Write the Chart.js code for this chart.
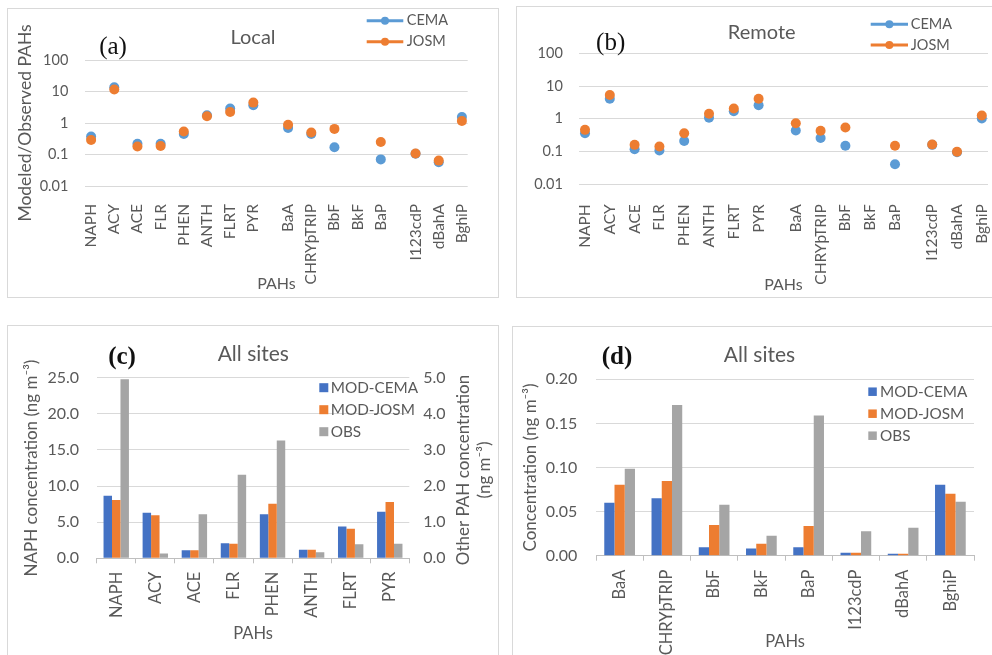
<!DOCTYPE html>
<html>
<head>
<meta charset="utf-8">
<script src="https://cdn.jsdelivr.net/npm/chart.js@4.4.1/dist/chart.umd.min.js"></script>
<style>
  body { margin: 0; background: #fff; width: 992px; height: 655px; overflow: hidden; position: relative; }
  .panel { position: absolute; border: 1px solid #d9d9d9; box-sizing: border-box; background: #fff; }
  .panel canvas { display: block; }
</style>
</head>
<body>
<div class="panel" style="left:7px;top:8px;width:492px;height:290px"><canvas id="chartA" width="490" height="288"></canvas></div>
<div class="panel" style="left:516px;top:6px;width:478px;height:292px"><canvas id="chartB" width="476" height="290"></canvas></div>
<div class="panel" style="left:7px;top:325px;width:492px;height:331px"><canvas id="chartC" width="490" height="329"></canvas></div>
<div class="panel" style="left:512px;top:326px;width:482px;height:330px"><canvas id="chartD" width="480" height="328"></canvas></div>
<script>
'use strict';
Chart.defaults.font.family = 'Lato, "Open Sans", sans-serif';
Chart.defaults.color = '#595959';
Chart.defaults.animation = false;

// (a) and (b): modeled / observed ratios
let pahGroups = [
    ['NAPH', 'ACY', 'ACE', 'FLR', 'PHEN', 'ANTH', 'FLRT', 'PYR'],
    ['BaA', 'CHRYþTRIP', 'BbF', 'BkF', 'BaP'],
    ['I123cdP', 'dBahA', 'BghiP']
];
let ratioTicks = [0.01, 0.1, 1, 10, 100];
let localCema = [0.37, 13.7, 0.22, 0.22, 0.45, 1.75, 2.87, 3.65, 0.70, 0.45, 0.17, null, 0.070, 0.105, 0.057, 1.55];
let localJosm = [0.29, 11.6, 0.18, 0.185, 0.54, 1.63, 2.24, 4.44, 0.88, 0.50, 0.65, null, 0.25, 0.107, 0.064, 1.16];
let remoteCema = [0.36, 4.1, 0.118, 0.107, 0.21, 1.07, 1.70, 2.6, 0.44, 0.26, 0.15, null, 0.041, 0.16, 0.095, 1.02];
let remoteJosm = [0.46, 5.3, 0.16, 0.142, 0.36, 1.42, 2.07, 4.1, 0.73, 0.43, 0.54, null, 0.15, 0.164, 0.098, 1.26];

// (c): NAPH on the left axis, the other light PAHs on the right axis
let lightPahs = ['NAPH', 'ACY', 'ACE', 'FLR', 'PHEN', 'ANTH', 'FLRT', 'PYR'];
let naphCema = 8.67;
let naphJosm = 8.07;
let naphObs = 24.8;
let otherCema = [1.26, 0.22, 0.42, 1.22, 0.24, 0.88, 1.29];
let otherJosm = [1.19, 0.22, 0.40, 1.51, 0.24, 0.82, 1.56];
let otherObs = [0.13, 1.22, 2.31, 3.26, 0.17, 0.39, 0.40];

// (d): heavy PAHs
let heavyPahs = ['BaA', 'CHRYþTRIP', 'BbF', 'BkF', 'BaP', 'I123cdP', 'dBahA', 'BghiP'];
let heavyCema = [0.060, 0.065, 0.0095, 0.0083, 0.0095, 0.0034, 0.0023, 0.0805];
let heavyJosm = [0.0805, 0.0847, 0.0348, 0.0136, 0.0336, 0.0034, 0.0023, 0.0703];
let heavyObs = [0.0987, 0.171, 0.0578, 0.0227, 0.159, 0.0276, 0.0318, 0.0612];

let blue = '#5b9bd5';
let orange = '#ed7d31';
let barBlue = '#4472c4';
let barGrey = '#a5a5a5';
let gridGrey = '#d9d9d9';

// excel left wider gaps between the groups, so every name sits on a
// half step and the group gaps get one extra empty step
function spread(list, blank) {
    let out = [];
    let k = 0;
    pahGroups.forEach((group, g) => {
        if (g > 0) out.push(blank, blank);
        group.forEach((name, i) => {
            if (i > 0) out.push(blank);
            out.push(list[k++]);
        });
    });
    return out;
}
let slotLabels = spread(pahGroups.flat(), '');

// texts and legends drawn straight on the canvas
let notes = {
    id: 'notes',
    afterDraw(chart, args, opts) {
        let ctx = chart.ctx;
        (opts.texts || []).forEach(t => {
            ctx.save();
            ctx.font = t.font;
            ctx.fillStyle = t.color || '#595959';
            ctx.textAlign = 'center';
            ctx.textBaseline = 'middle';
            ctx.translate(t.x, t.y);
            if (t.rotate) ctx.rotate(-Math.PI / 2);
            ctx.fillText(t.text, 0, 0);
            ctx.restore();
        });
        let lg = opts.legend;
        if (!lg) return;
        let sets = chart.data.datasets.slice(0, lg.count);
        sets.forEach((ds, i) => {
            let y = lg.y + i * lg.step;
            ctx.save();
            ctx.fillStyle = ds.backgroundColor;
            ctx.strokeStyle = ds.backgroundColor;
            if (lg.kind === 'line') {
                ctx.lineWidth = 3;
                ctx.beginPath();
                ctx.moveTo(lg.x, y);
                ctx.lineTo(lg.x + lg.len, y);
                ctx.stroke();
                ctx.beginPath();
                ctx.arc(lg.x + lg.len / 2, y, 4, 0, Math.PI * 2);
                ctx.fill();
            } else {
                ctx.fillRect(lg.x, y - lg.len / 2, lg.len, lg.len);
            }
            ctx.font = lg.font;
            ctx.fillStyle = '#595959';
            ctx.textAlign = 'left';
            ctx.textBaseline = 'middle';
            ctx.fillText(ds.label, lg.x + lg.len + lg.gap, y);
            ctx.restore();
        });
    }
};

function ratioChart(id, cema, josm, cfg) {
    return new Chart(document.getElementById(id), {
        type: 'line',
        data: {
            labels: slotLabels,
            datasets: [
                { label: 'CEMA', data: spread(cema, null), backgroundColor: blue, borderColor: blue, order: 2 },
                { label: 'JOSM', data: spread(josm, null), backgroundColor: orange, borderColor: orange, order: 1 }
            ]
        },
        options: {
            responsive: false,
            layout: { padding: cfg.padding },
            datasets: { line: { showLine: false, pointRadius: 5, pointHoverRadius: 5, pointBorderWidth: 0 } },
            plugins: { legend: { display: false }, tooltip: { enabled: false }, notes: cfg.notes },
            scales: {
                x: {
                    offset: true,
                    grid: { display: false },
                    border: { display: false },
                    ticks: { autoSkip: false, minRotation: 90, maxRotation: 90, padding: cfg.xPad, font: { size: 15.5 } },
                    title: { display: true, text: 'PAHs', font: { size: 16 }, padding: { top: 0, bottom: cfg.xTitlePad } },
                    afterFit: s => { s.height = cfg.xHeight; s.paddingLeft = 0; s.paddingRight = 0; }
                },
                y: {
                    type: 'logarithmic',
                    min: 0.01,
                    max: 100,
                    afterBuildTicks: s => { s.ticks = ratioTicks.map(v => ({ value: v })); },
                    grid: { color: gridGrey, drawTicks: false },
                    border: { display: false },
                    ticks: { padding: cfg.yPad, font: { size: 14.5 }, callback: v => String(v) },
                    title: { display: !!cfg.yTitle, text: cfg.yTitle, font: { size: 17.5 }, padding: { top: 6.5, bottom: 0 } },
                    afterFit: s => { s.width = cfg.yWidth; s.paddingTop = 0; s.paddingBottom = 0; }
                }
            }
        },
        plugins: [notes]
    });
}

ratioChart('chartA', localCema, localJosm, {
    padding: { top: 51, right: 30.3, left: 0, bottom: 0 },
    yWidth: 77.3, xHeight: 111, xPad: 10, xTitlePad: 3.5, yPad: 17,
    yTitle: 'Modeled/Observed PAHs',
    notes: {
        texts: [
            { text: 'Local', x: 245, y: 29, font: '20px Lato' },
            { text: '(a)', x: 105, y: 38, font: '25px "Liberation Serif"', color: '#111' }
        ],
        legend: { kind: 'line', x: 358.7, y: 11.7, step: 21, len: 36.6, gap: 3.4, count: 2, font: '14.5px Lato' }
    }
});

ratioChart('chartB', remoteCema, remoteJosm, {
    padding: { top: 46.3, right: 2.8, left: 0, bottom: 0 },
    yWidth: 61.8, xHeight: 112.7, xPad: 12, xTitlePad: 2.5, yPad: 16,
    yTitle: '',
    notes: {
        texts: [
            { text: 'Remote', x: 244.7, y: 25.3, font: '20px Lato' },
            { text: '(b)', x: 93.7, y: 36.3, font: '25px "Liberation Serif"', color: '#111' }
        ],
        legend: { kind: 'line', x: 353.7, y: 17.3, step: 20.7, len: 37.3, gap: 2.7, count: 2, font: '14.5px Lato' }
    }
});

function barSet(label, data, color, axis) {
    return { label: label, data: data, backgroundColor: color, yAxisID: axis, skipNull: true,
        categoryPercentage: 0.65, barPercentage: 1 };
}

function catAxis(cfg) {
    return {
        grid: { drawOnChartArea: false, drawTicks: true, tickLength: 5, color: '#bfbfbf' },
        border: { color: '#bfbfbf' },
        ticks: { autoSkip: false, minRotation: 90, maxRotation: 90, padding: cfg.xPad, font: { size: 16.5 } },
        title: { display: true, text: 'PAHs', font: { size: 16.5 }, padding: { top: 0, bottom: cfg.xTitlePad } },
        afterFit: s => { s.height = cfg.xHeight; s.paddingLeft = 0; s.paddingRight = 0; }
    };
}

let noNaph = otherCema.map(() => null);
new Chart(document.getElementById('chartC'), {
    type: 'bar',
    data: {
        labels: lightPahs,
        datasets: [
            barSet('MOD-CEMA', [naphCema, ...noNaph], barBlue, 'y'),
            barSet('MOD-JOSM', [naphJosm, ...noNaph], orange, 'y'),
            barSet('OBS', [naphObs, ...noNaph], barGrey, 'y'),
            barSet('MOD-CEMA', [null, ...otherCema], barBlue, 'y2'),
            barSet('MOD-JOSM', [null, ...otherJosm], orange, 'y2'),
            barSet('OBS', [null, ...otherObs], barGrey, 'y2')
        ]
    },
    options: {
        responsive: false,
        layout: { padding: { top: 51.7, right: 0, left: 0, bottom: 0 } },
        plugins: {
            legend: { display: false },
            tooltip: { enabled: false },
            notes: {
                texts: [
                    { text: 'All sites', x: 245.3, y: 28.3, font: '21px Lato' },
                    { text: '(c)', x: 114, y: 32, font: 'bold 25px "Liberation Serif"', color: '#111' },
                    { text: 'Other PAH concentration', x: 455.3, y: 144, font: '17px Lato', rotate: true },
                    { text: '(ng m⁻³)', x: 477, y: 144, font: '17px Lato', rotate: true }
                ],
                legend: { kind: 'box', x: 311.3, y: 61.7, step: 22, len: 9, gap: 2.4, count: 3, font: '15.3px Lato' }
            }
        },
        scales: {
            x: catAxis({ xPad: 8.4, xTitlePad: 11.5, xHeight: 96.7 }),
            y: {
                min: 0, max: 25,
                grid: { color: gridGrey, drawTicks: false },
                border: { display: false },
                ticks: { stepSize: 5, padding: 17.7, font: { size: 16 }, callback: v => v.toFixed(1) },
                title: { display: true, text: 'NAPH concentration (ng m⁻³)', font: { size: 17 }, padding: { top: 13.5, bottom: 0 } },
                afterFit: s => { s.width = 88.7; s.paddingTop = 0; s.paddingBottom = 0; }
            },
            y2: {
                position: 'right',
                min: 0, max: 5,
                grid: { drawOnChartArea: false, drawTicks: false },
                border: { display: false },
                ticks: { stepSize: 1, padding: 14, font: { size: 16 }, callback: v => v.toFixed(1) },
                afterFit: s => { s.width = 88.7; s.paddingTop = 0; s.paddingBottom = 0; }
            }
        }
    },
    plugins: [notes]
});

new Chart(document.getElementById('chartD'), {
    type: 'bar',
    data: {
        labels: heavyPahs,
        datasets: [
            barSet('MOD-CEMA', heavyCema, barBlue, 'y'),
            barSet('MOD-JOSM', heavyJosm, orange, 'y'),
            barSet('OBS', heavyObs, barGrey, 'y')
        ]
    },
    options: {
        responsive: false,
        layout: { padding: { top: 52.3, right: 19, left: 0, bottom: 0 } },
        datasets: { bar: { categoryPercentage: 0.67 } },
        plugins: {
            legend: { display: false },
            tooltip: { enabled: false },
            notes: {
                texts: [
                    { text: 'All sites', x: 246.5, y: 28, font: '21px Lato' },
                    { text: '(d)', x: 104, y: 31, font: 'bold 25px "Liberation Serif"', color: '#111' }
                ],
                legend: { kind: 'box', x: 355.3, y: 64.7, step: 22, len: 8.5, gap: 3.2, count: 3, font: '15.3px Lato' }
            }
        },
        scales: {
            x: catAxis({ xPad: 9, xTitlePad: 3.2, xHeight: 99.3 }),
            y: {
                min: 0, max: 0.2,
                grid: { color: gridGrey, drawTicks: false },
                border: { display: false },
                ticks: { stepSize: 0.05, padding: 18.7, font: { size: 16 }, callback: v => v.toFixed(2) },
                title: { display: true, text: 'Concentration (ng m⁻³)', font: { size: 17 }, padding: { top: 7.5, bottom: 0 } },
                afterFit: s => { s.width = 83; s.paddingTop = 0; s.paddingBottom = 0; }
            }
        }
    },
    plugins: [notes]
});
</script>
</body>
</html>
